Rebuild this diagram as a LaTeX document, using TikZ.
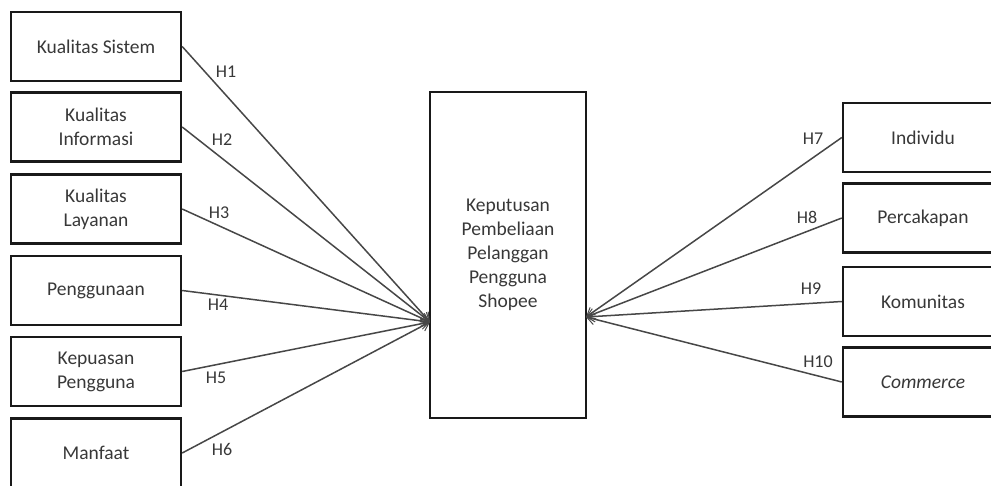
\documentclass[tikz,border=0pt]{standalone}
\usepackage{fontspec}
\setmainfont{Carlito}
\usetikzlibrary{arrows.meta}
\begin{document}
\begin{tikzpicture}[x=1pt,y=-1pt,
  box/.style={draw=black!90,line width=2.4pt,align=center,text=black!78,
    font=\fontsize{19.5}{24}\selectfont,inner sep=2pt},
  lbox/.style={box,minimum width=170pt,minimum height=69pt},
  rbox/.style={box,minimum width=160pt,minimum height=69pt},
  conn/.style={draw=black!72,line width=1.5pt,-{Straight Barb[length=8pt,width=11pt,line width=1pt]}},
  hlab/.style={text=black!78,font=\fontsize{18}{20}\selectfont,inner sep=0pt}]
\useasboundingbox (0,0) rectangle (991,486);
\clip (0,0) rectangle (991,486);
\node[lbox] (a1) at (96,46.5) {Kualitas Sistem};
\node[lbox] (a2) at (96,127) {Kualitas\\Informasi};
\node[lbox] (a3) at (96,209) {Kualitas\\Layanan};
\node[lbox] (a4) at (96,290.5) {Penggunaan};
\node[lbox] (a5) at (96,371.5) {Kepuasan\\Pengguna};
\node[lbox] (a6) at (96,453) {Manfaat};
\node[box,minimum width=156pt,minimum height=326pt] (c) at (508,255) {Keputusan\\Pembeliaan\\Pelanggan\\Pengguna\\Shopee};
\node[rbox] (b1) at (923,137.5) {Individu};
\node[rbox] (b2) at (923,218) {Percakapan};
\node[rbox] (b3) at (923,301.5) {Komunitas};
\node[rbox] (b4) at (923,382) {\textit{Commerce}};
\coordinate (tl) at (430,322);
\coordinate (tr) at (586,317);
\foreach \n in {a1,a2,a3,a4,a5,a6} \draw[conn] (\n.east) -- (tl);
\foreach \n in {b1,b2,b3,b4} \draw[conn] (\n.west) -- (tr);
\node[hlab] (h1) at (226,72) {H1};
\node[hlab] (h2) at (222,140) {H2};
\node[hlab] (h3) at (219,213) {H3};
\node[hlab] (h4) at (218,305) {H4};
\node[hlab] (h5) at (216,378) {H5};
\node[hlab] (h6) at (222,449) {H6};
\node[hlab] (h7) at (813,139) {H7};
\node[hlab] (h8) at (807,217) {H8};
\node[hlab] (h9) at (811,289) {H9};
\node[hlab] (h10) at (818,362) {H10};
\end{tikzpicture}
\end{document}
